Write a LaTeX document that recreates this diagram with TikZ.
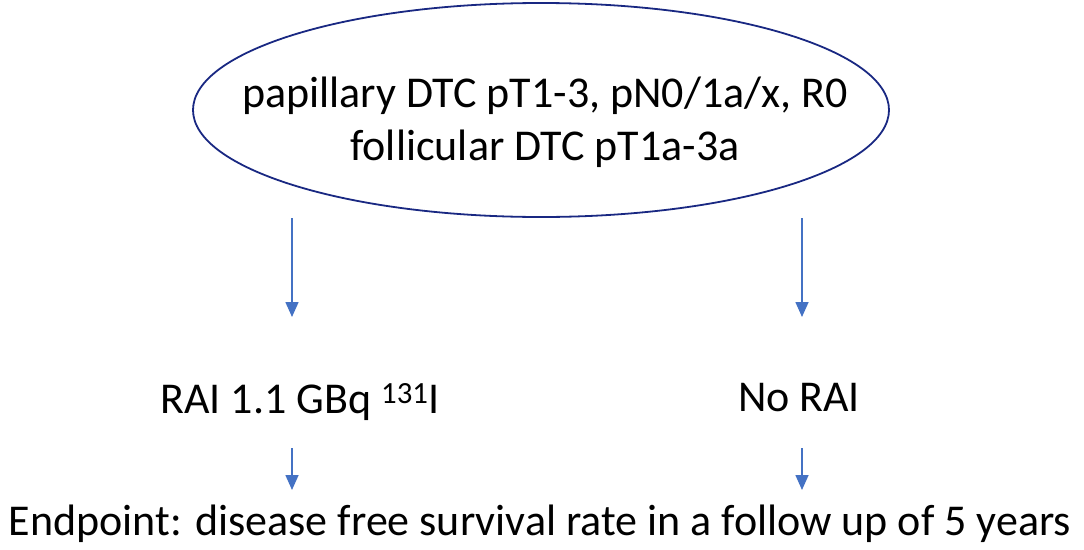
\documentclass[tikz,border=0pt]{standalone}
\usepackage{fontspec}
\setmainfont{Carlito}
\usetikzlibrary{shapes.geometric,arrows.meta}
\definecolor{arrowblue}{RGB}{68,114,196}
\definecolor{ellnavy}{RGB}{25,40,130}
\begin{document}
\begin{tikzpicture}[x=1pt,y=-1pt,
  arr/.style={draw=arrowblue, line width=1.6pt, -{Triangle[length=15pt,width=13pt]}},
  txt/.style={font=\fontsize{44}{53}\selectfont, inner sep=0pt, anchor=base}]
\useasboundingbox (0,0) rectangle (1084,549);
\node[draw=ellnavy, line width=1.8pt, ellipse, minimum width=696pt, minimum height=214pt, inner sep=0pt] (ell) at (541,110) {};
\node[txt] (top1) at (545,107) {papillary DTC pT1-3, pN0/1a/x, R0};
\node[txt] (top2) at (545,160) {follicular DTC pT1a-3a};
\coordinate (la) at (292,218);
\coordinate (ra) at (802,218);
\coordinate (lat) at (292,317);
\coordinate (rat) at (802,317);
\node[txt] (rai) at (300,413) {RAI 1.1 GBq \textsuperscript{131}I};
\node[txt] (norai) at (799,411) {No RAI};
\node[txt] (end) at (540,535) {Endpoint: disease free survival rate in a follow up of 5 years};
\coordinate (lb) at (292,448);
\coordinate (rb) at (802,448);
\coordinate (lbt) at (292,490);
\coordinate (rbt) at (802,490);
\draw[arr] (la) -- (lat);
\draw[arr] (ra) -- (rat);
\draw[arr] (lb) -- (lbt);
\draw[arr] (rb) -- (rbt);
\end{tikzpicture}
\end{document}
